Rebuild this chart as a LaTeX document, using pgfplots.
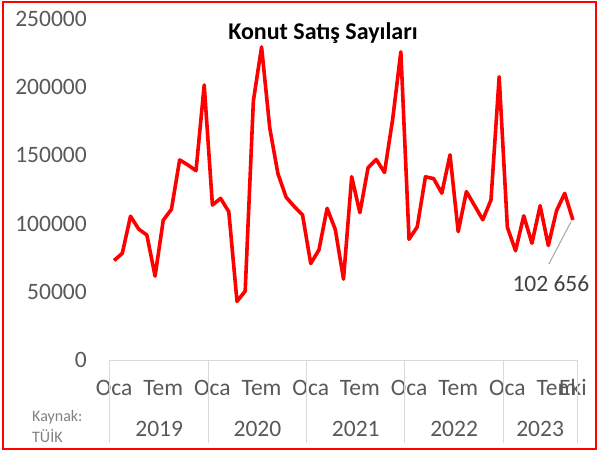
\documentclass[border=0pt]{standalone}
\usepackage{fontspec}
\setmainfont{Carlito}
\usepackage{pgfplots}
\pgfplotsset{compat=1.18}
\definecolor{tickgray}{HTML}{595959}
\definecolor{gridgray}{HTML}{D9D9D9}
\definecolor{srcgray}{HTML}{808080}
\definecolor{lblgray}{HTML}{404040}
\tikzset{yearlbl/.style={anchor=base, font=\fontsize{23.5}{28}\selectfont, text=tickgray, inner sep=0pt}}
\begin{document}
\begin{tikzpicture}
\path (-110pt,-92pt) rectangle (491pt,360pt);
\draw[red, line width=2pt] (-107pt,-89pt) rectangle (486pt,358pt);
\begin{axis}[
  at={(0pt,0pt)}, anchor=south west,
  scale only axis, width=467pt, height=341pt,
  xmin=-0.5, xmax=56.5, ymin=0, ymax=250000,
  axis line style={draw=none},
  axis x line*=bottom,
  axis y line*=left,
  clip=false,
  major tick length=0pt,
  ytick={0,50000,100000,150000,200000,250000},
  yticklabels={0,50000,100000,150000,200000,250000},
  yticklabel style={font=\fontsize{23.5}{28}\selectfont, text=tickgray, inner sep=0pt, anchor=east},
  yticklabel shift=23pt,
  scaled y ticks=false,
  xtick={0,6,12,18,24,30,36,42,48,54,56},
  xticklabels={Oca,Tem,Oca,Tem,Oca,Tem,Oca,Tem,Oca,Tem,Eki},
  xticklabel style={font=\fontsize{23.5}{28}\selectfont, text=tickgray, inner sep=0pt, anchor=base},
  xticklabel shift=35pt,
]
\draw[gridgray, line width=1pt] (axis cs:-0.5,0) -- (axis cs:56.5,0);
\pgfplotsinvokeforeach{-0.5,11.5,23.5,35.5,47.5,56.5}{
  \draw[gridgray, line width=1pt] (axis cs:#1,0) -- ([yshift=-83pt]axis cs:#1,0);
}
\node[yearlbl] at ([yshift=-76pt]axis cs:5.5,0) {2019};
\node[yearlbl] at ([yshift=-76pt]axis cs:17.5,0) {2020};
\node[yearlbl] at ([yshift=-76pt]axis cs:29.5,0) {2021};
\node[yearlbl] at ([yshift=-76pt]axis cs:41.5,0) {2022};
\node[yearlbl] at ([yshift=-76pt]axis cs:52,0) {2023};
\node[anchor=base west, font=\fontsize{16}{19}\selectfont, text=srcgray, inner sep=0pt] at ([xshift=-78pt,yshift=-61pt]axis cs:-0.5,0) {Kaynak:};
\node[anchor=base west, font=\fontsize{16}{19}\selectfont, text=srcgray, inner sep=0pt] at ([xshift=-78pt,yshift=-82pt]axis cs:-0.5,0) {TÜİK};
\addplot[red, line width=3.6pt, line join=round, mark=none] coordinates {
(0,72937) (1,78212) (2,105384) (3,96000) (4,91600) (5,61500) (6,102500) (7,110500) (8,146700) (9,143000) (10,138800) (11,201600)
(12,113600) (13,118500) (14,108700) (15,43000) (16,50500) (17,190000) (18,229500) (19,170000) (20,136500) (21,119300) (22,112500) (23,106300)
(24,70700) (25,80700) (26,111200) (27,95700) (28,59300) (29,134400) (30,108000) (31,141000) (32,147000) (33,137500) (34,176500) (35,226000)
(36,88500) (37,97600) (38,134300) (39,133000) (40,122300) (41,150400) (42,94100) (43,123500) (44,113200) (45,102800) (46,117300) (47,207700)
(48,97300) (49,80100) (50,105700) (51,85600) (52,113100) (53,83900) (54,109400) (55,122200) (56,102656)
};
\draw[gray!70, line width=1pt] ([xshift=-2pt,yshift=-2pt]axis cs:56,102656) -- ([xshift=-24pt,yshift=-44pt]axis cs:56,102656);
\node[anchor=base, font=\fontsize{23.5}{28}\selectfont, text=lblgray, inner sep=0pt] at ([xshift=-22pt,yshift=-72pt]axis cs:56,102656) {102 656};
\node[anchor=base, font=\fontsize{24}{29}\selectfont\bfseries, inner sep=0pt] at (rel axis cs:0.456,0.941) {Konut Satış Sayıları};
\end{axis}
\end{tikzpicture}
\end{document}
